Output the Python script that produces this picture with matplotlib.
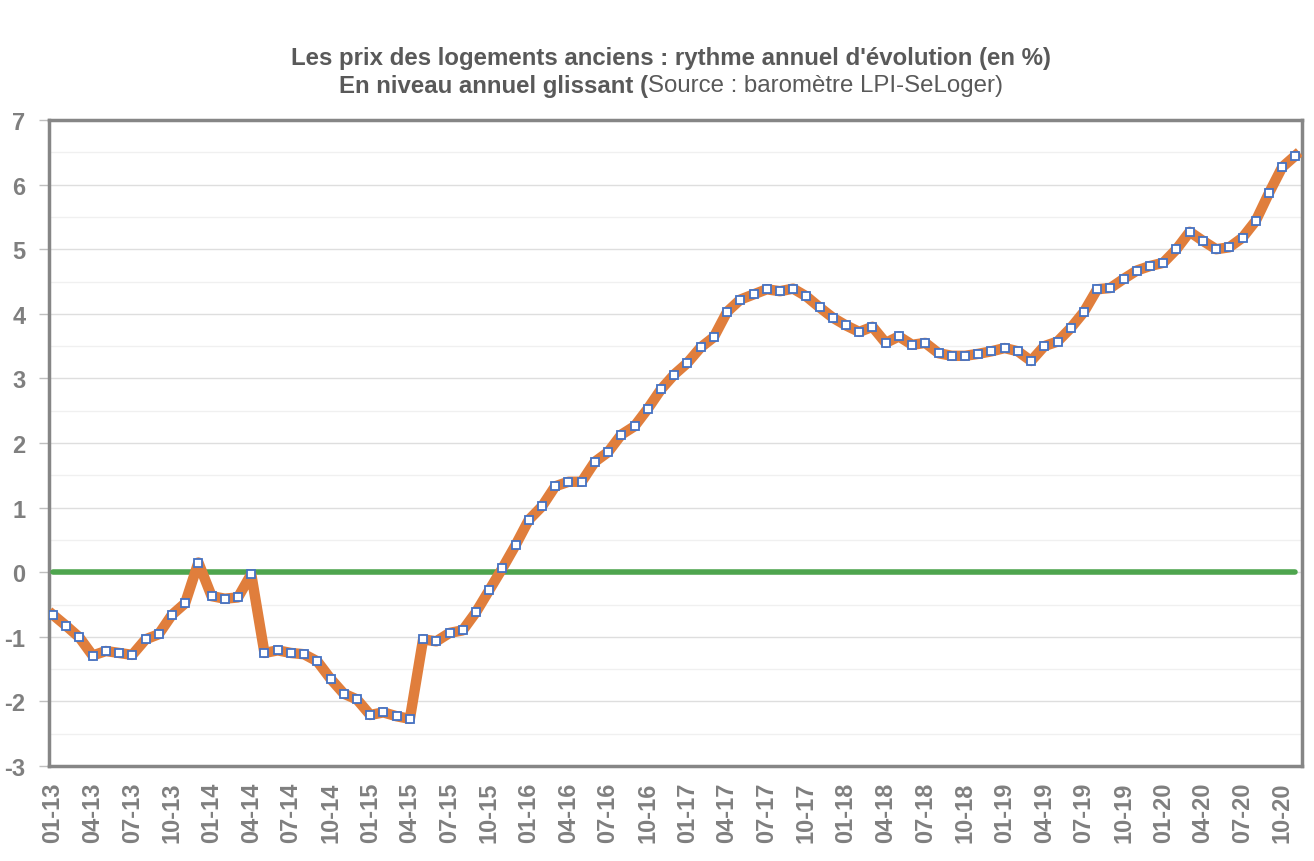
import numpy as np
import matplotlib
matplotlib.use('Agg')
import matplotlib.pyplot as plt
from matplotlib.ticker import MultipleLocator

matplotlib.rcParams['font.family'] = ['Liberation Sans', 'DejaVu Sans']
matplotlib.rcParams['axes.unicode_minus'] = False

# Monthly values, 01-13 .. 11-20 (annual rate of change, %)
Months = ['%02d-%02d' % (m, y) for y in range(13, 21) for m in range(1, 13)][:95]
Values = [-0.66, -0.83, -1.01, -1.29, -1.22, -1.25, -1.28, -1.04, -0.96, -0.66,
          -0.48, 0.15, -0.37, -0.41, -0.39, -0.03, -1.25, -1.21, -1.25, -1.27,
          -1.38, -1.65, -1.88, -1.97, -2.21, -2.17, -2.23, -2.27, -1.04, -1.07,
          -0.94, -0.90, -0.62, -0.28, 0.06, 0.42, 0.81, 1.02, 1.33, 1.40,
          1.40, 1.71, 1.86, 2.13, 2.26, 2.53, 2.83, 3.06, 3.24, 3.48,
          3.64, 4.03, 4.22, 4.30, 4.38, 4.35, 4.39, 4.27, 4.10, 3.94,
          3.82, 3.72, 3.80, 3.55, 3.65, 3.52, 3.55, 3.39, 3.35, 3.35,
          3.38, 3.42, 3.47, 3.42, 3.27, 3.50, 3.57, 3.78, 4.03, 4.38,
          4.40, 4.54, 4.67, 4.74, 4.79, 5.00, 5.27, 5.13, 5.00, 5.03,
          5.18, 5.44, 5.87, 6.27, 6.45]
ZeroLine = [0.0] * len(Values)

TickColor = '#7f7f7f'
TitleColor = '#595959'

fig = plt.figure(figsize=(13.14, 8.62), dpi=100)
ax = fig.add_axes([0.0373, 0.1102, 0.9536, 0.7494])

x = np.arange(len(Values))
ax.plot(x, ZeroLine, '-', color='#4ea54e', linewidth=4, solid_capstyle='round', zorder=3)
ax.plot(x, Values, '-', color='#e07e3c', linewidth=7.5, zorder=4)
ax.plot(x, Values, 's', markersize=5.5, markerfacecolor='white', markeredgecolor='#4472c4',
        markeredgewidth=1.3, zorder=5)

ax.set_xlim(-0.3, 94.5)
ax.set_ylim(-3, 7)
ax.yaxis.set_major_locator(MultipleLocator(1))
ax.yaxis.set_minor_locator(MultipleLocator(0.5))
ax.grid(which='major', axis='y', color='#dedede', linewidth=1)
ax.grid(which='minor', axis='y', color='#f0f0f0', linewidth=1)
ax.set_axisbelow(True)

ax.set_xticks(x[::3])
ax.set_xticklabels(Months[::3], rotation=90, fontsize=17, fontweight='bold', color=TickColor)
ax.tick_params(axis='x', length=0, pad=11)
ax.tick_params(axis='y', which='major', length=7, width=1, color='#bfbfbf', pad=10,
               labelsize=17, labelcolor=TickColor)
ax.tick_params(axis='y', which='minor', length=0)
for lab in ax.get_yticklabels():
    lab.set_fontweight('bold')
for s in ax.spines.values():
    s.set_color('#868686')
    s.set_linewidth(2.5)

# Title, second line mixes bold and normal weight
fig.text(0.511, 0.9327, "Les prix des logements anciens : rythme annuel d'évolution (en %)",
         ha='center', va='center', fontsize=17.3, fontweight='bold', color=TitleColor)
fig.canvas.draw()
r = fig.canvas.get_renderer()
t1 = fig.text(0, 0.900, 'En niveau annuel glissant (', ha='left', va='center',
              fontsize=17.3, fontweight='bold', color=TitleColor)
t2 = fig.text(0, 0.900, 'Source : baromètre LPI-SeLoger)', ha='left', va='center',
              fontsize=17.3, color=TitleColor)
w1 = t1.get_window_extent(r).width / fig.bbox.width
w2 = t2.get_window_extent(r).width / fig.bbox.width
x0 = 0.511 - (w1 + w2) / 2
t1.set_x(x0)
t2.set_x(x0 + w1)

fig.savefig('out.png', dpi=100)
